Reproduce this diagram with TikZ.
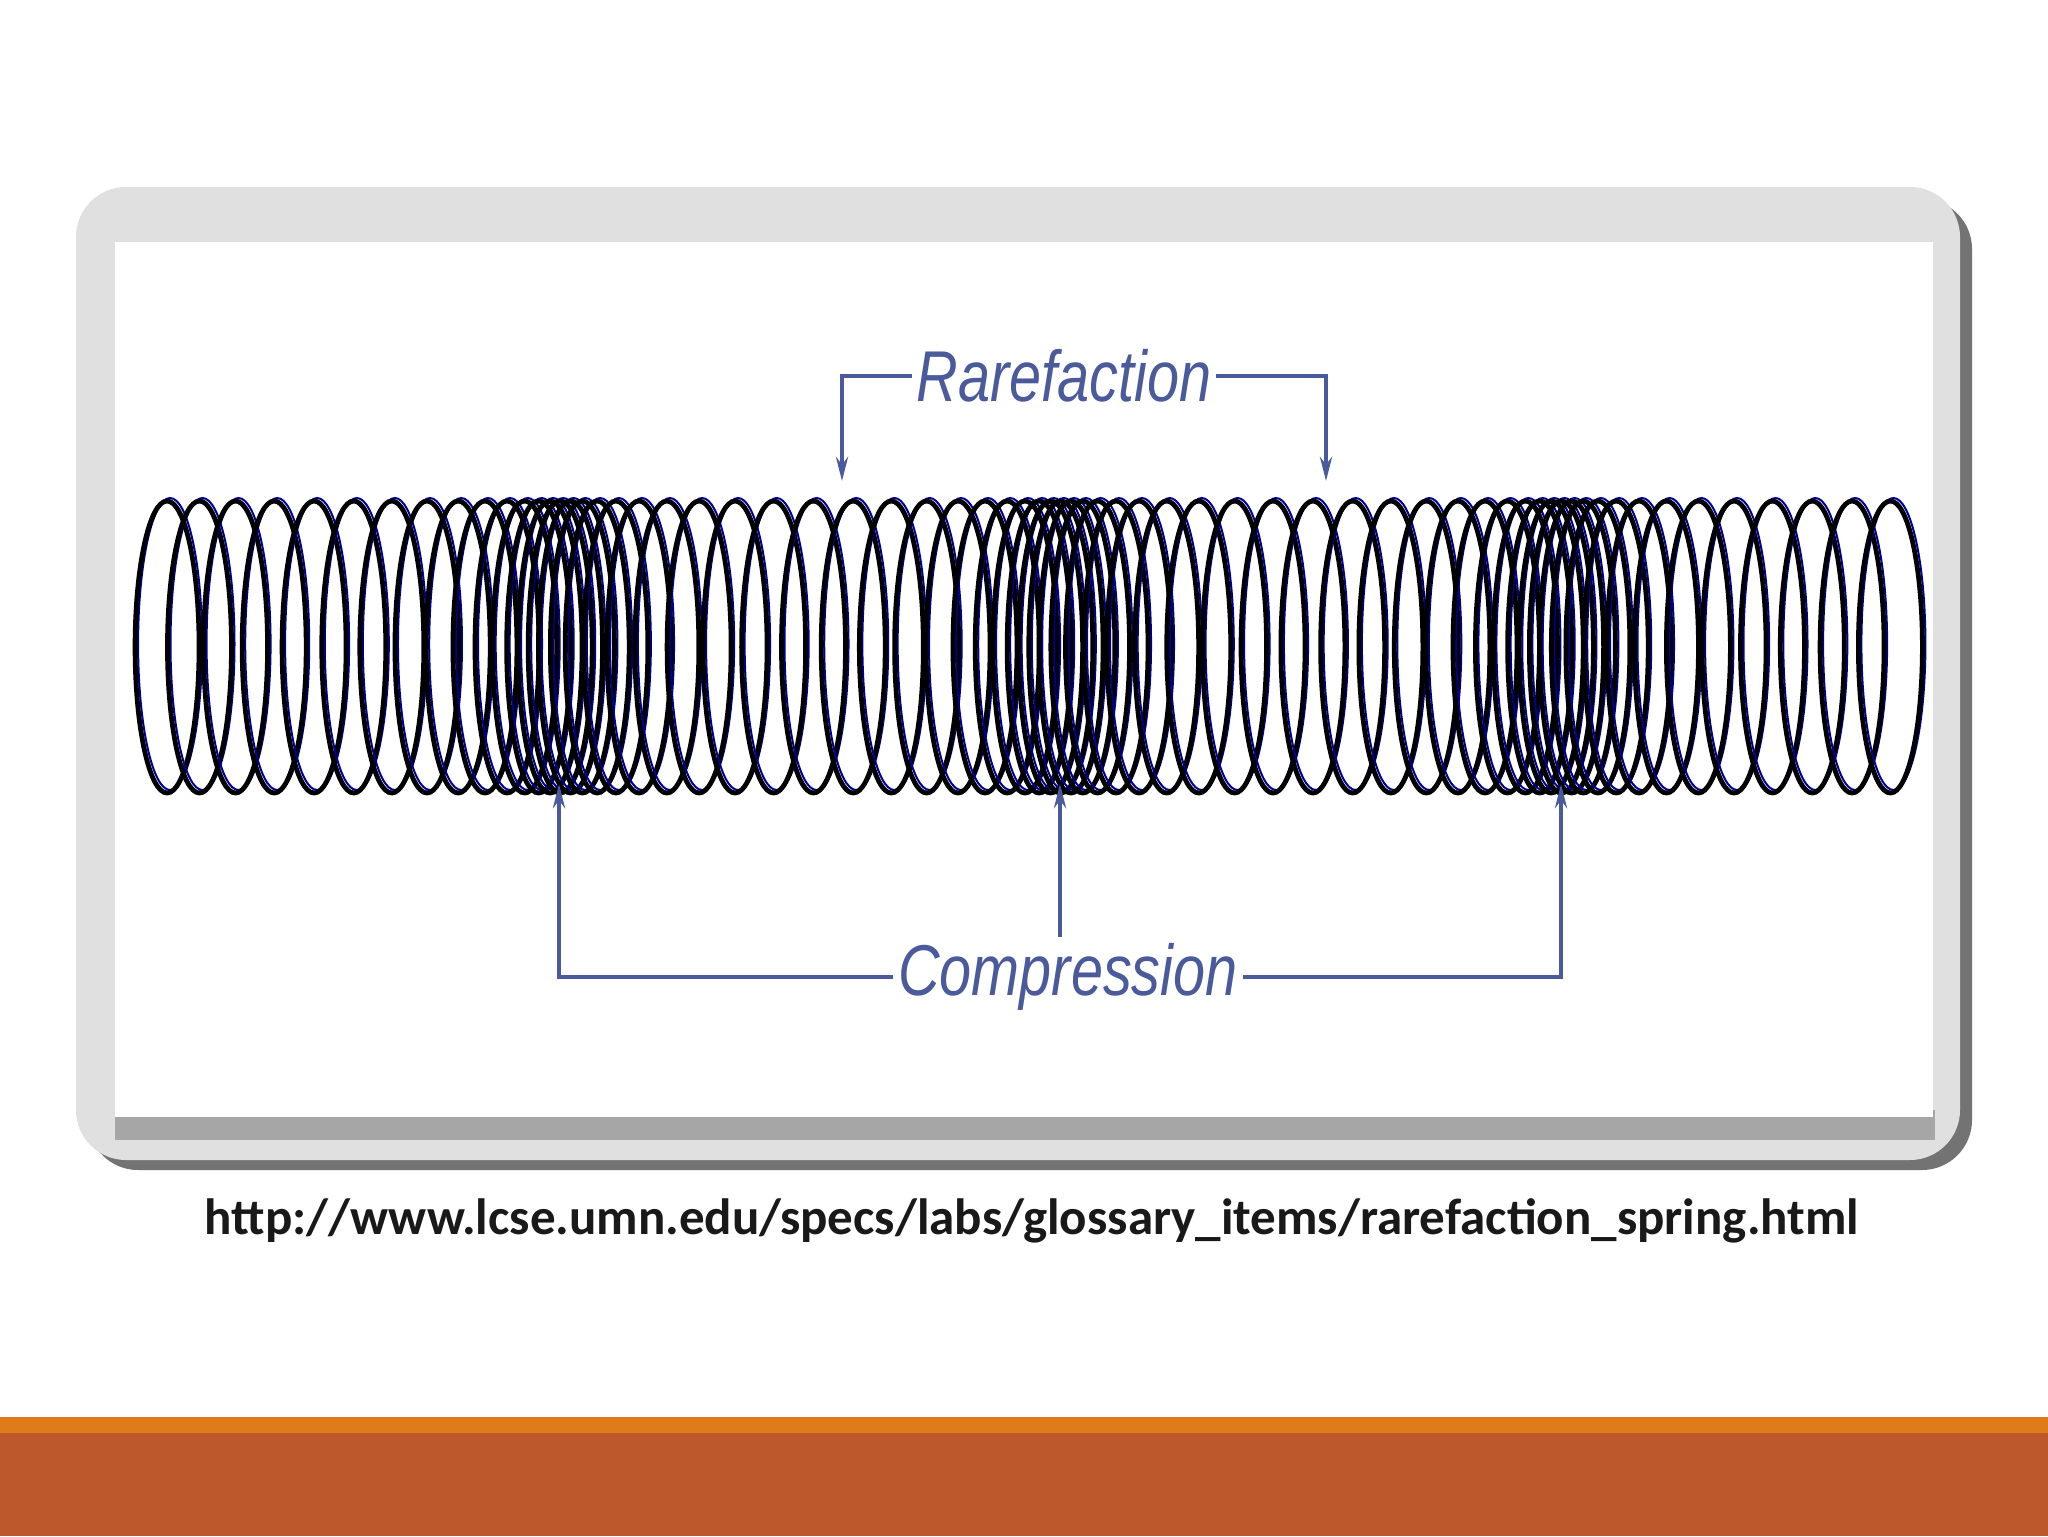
\documentclass[tikz,border=0pt]{standalone}
\usepackage{fontspec}
\usetikzlibrary{arrows.meta}
\setmainfont{Carlito}
\newfontfamily\lblfont{Liberation Sans}
\definecolor{lblblue}{HTML}{4A5A9A}
\definecolor{barorange}{HTML}{E07B1A}
\definecolor{barrust}{HTML}{BD582C}
\begin{document}
\begin{tikzpicture}[x=0.5pt,y=-0.5pt,
  lbl/.style={text=lblblue,font=\lblfont\itshape\fontsize{36}{36}\selectfont,inner sep=3pt,xscale=0.8},
  conn/.style={draw=lblblue,line width=2pt},
  arr/.style={conn,-{Stealth[length=12pt,width=6pt]}},
  coil/.style={draw=black,line width=2.4pt}]
\useasboundingbox (0,0) rectangle (2048,1536);
\fill[white] (0,0) rectangle (2048,1536);
% frame
\fill[black!55,rounded corners=25pt] (88,199) rectangle (1972,1170);
\fill[black!12,rounded corners=25pt] (76,187) rectangle (1960,1160);
\fill[black!35] (115,1110) rectangle (1935,1140);
\fill[white] (115,242) rectangle (1933,1117);
% spring
\foreach \i in {0,...,66}{
  \pgfmathsetmacro{\u}{212+25*\i}
  \pgfmathsetmacro{\xx}{\u-48*sin(deg(2*pi*(\u-559)/501))}
  \draw[draw=blue!60!black,line width=1pt] (\xx+3,644) ellipse [x radius=16pt, y radius=73pt];
  \draw[coil] (\xx,647) ellipse [x radius=16pt, y radius=73pt];
}
% labels
\node[lbl] (rar) at (1064,376) {Rarefaction};
\node[lbl] (comp) at (1068,977) {Compression};
\coordinate (rla) at (842,481); \coordinate (rra) at (1326,481);
\draw[arr] (rar.west) -| (rla);
\draw[arr] (rar.east) -| (rra);
\coordinate (cla) at (559,784); \coordinate (cma) at (1060,784); \coordinate (cra) at (1561,784);
\draw[arr] (comp.west) -| (cla);
\draw[arr] (comp.east) -| (cra);
\draw[arr] (comp.north -| cma) -- (cma);
% url
\node[font=\bfseries\fontsize{25.5}{25.5}\selectfont,text=black!90] (url) at (1032,1221)
  {http://www.lcse.umn.edu/specs/labs/glossary\_items/rarefaction\_spring.html};
% bottom bars
\fill[barorange] (0,1417) rectangle (2048,1433);
\fill[barrust] (0,1433) rectangle (2048,1536);
\end{tikzpicture}
\end{document}
